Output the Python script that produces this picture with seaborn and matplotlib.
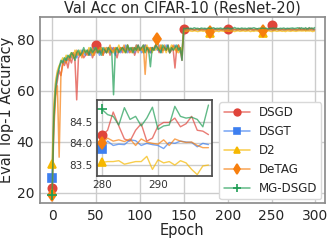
import numpy as np
import pandas as pd
import matplotlib
matplotlib.use("Agg")
import matplotlib.pyplot as plt
from matplotlib.colors import to_rgba
import seaborn as sns

# epochs: every 2nd epoch up to 278, then every epoch for the last 20 (zoomed in the inset)
epochs = list(range(0, 280, 2)) + list(range(280, 300))

dsgd = [22, 48, 60, 64, 68, 66, 71, 70, 72, 69,
        73, 71, 74, 72, 56.5, 73, 74, 75, 73, 74,
        75, 74, 76, 73, 75, 78, 76, 75, 77, 74,
        76, 75, 77, 74, 76, 77, 75, 73, 76, 77,
        75, 77, 76, 78, 75, 76, 77, 74, 76, 78,
        76, 77, 75, 78, 76, 77, 75, 77, 76, 78,
        77, 75, 78, 76, 77, 76, 78, 75, 77, 76,
        69, 77, 78, 76, 72, 84.5, 84.1, 84.3, 84.0, 84.4,
        84.2, 84.0, 84.3, 84.1, 84.4, 84.2, 84.0, 84.3, 84.2, 84.1,
        84.3, 84.0, 84.2, 84.4, 84.1, 84.3, 84.2, 84.0, 84.3, 84.2,
        84.5, 84.2, 84.1, 84.3, 84.0, 84.2, 84.4, 84.1, 84.3, 84.2,
        84.1, 84.3, 84.2, 84.6, 84.3, 84.0, 84.2, 84.4, 84.1, 84.3,
        84.2, 84.0, 84.3, 84.1, 84.2, 86.0, 84.3, 84.1, 84.2, 84.4,
        84.2, 84.3, 84.1, 84.3, 84.2, 84.4, 84.1, 84.3, 84.2, 84.1,
        84.18, 84.30, 84.72, 84.40, 84.10, 84.05, 84.30, 84.45, 84.05, 84.12,
        84.40, 84.48, 84.48, 84.58, 84.38, 84.45, 84.62, 84.30, 84.28, 84.20]

dsgt = [26, 52, 63, 67, 69, 71, 72, 71, 73, 72,
        74, 73, 75, 74, 73, 75, 74, 76, 75, 74,
        76, 75, 74, 76, 77, 75, 76, 74, 77, 76,
        75, 77, 76, 75, 77, 76, 74, 77, 76, 75,
        77, 76, 78, 75, 77, 76, 77, 75, 78, 76,
        77, 75, 76, 78, 77, 76, 75, 77, 76, 77,
        76, 78, 75, 77, 76, 78, 77, 75, 76, 77,
        78, 76, 77, 75, 76, 84.0, 84.1, 83.9, 84.0, 84.2,
        84.0, 83.9, 84.1, 84.0, 83.8, 84.1, 84.0, 84.2, 83.9, 84.0,
        84.1, 83.9, 84.0, 84.2, 84.0, 83.9, 84.1, 84.0, 83.9, 84.1,
        84.0, 84.2, 83.9, 84.0, 84.1, 83.9, 84.0, 84.1, 83.9, 84.0,
        84.1, 83.9, 84.0, 84.2, 84.0, 83.9, 84.1, 84.0, 83.8, 84.0,
        84.1, 84.0, 83.9, 84.1, 84.0, 84.2, 83.9, 84.0, 84.1, 83.9,
        84.0, 84.1, 83.9, 84.0, 84.2, 84.0, 83.9, 84.1, 84.0, 83.9,
        83.88, 84.05, 83.95, 83.98, 83.97, 84.08, 84.06, 83.95, 84.00, 83.97,
        83.95, 83.88, 84.02, 84.00, 84.05, 84.03, 84.02, 83.92, 84.00, 83.97]

d2 = [31.5, 55, 64, 68, 70, 71, 73, 72, 74, 73,
      74, 75, 73, 76, 74, 75, 76, 74, 75, 76,
      75, 77, 76, 74, 76, 77, 75, 76, 77, 75,
      76, 77, 75, 77, 76, 75, 77, 76, 78, 76,
      77, 75, 76, 78, 76, 77, 75, 77, 76, 77,
      76, 77, 75, 77, 78, 76, 77, 75, 77, 76,
      77, 76, 78, 76, 77, 75, 77, 76, 78, 77,
      76, 77, 75, 77, 76, 83.6, 83.4, 83.5, 83.6, 83.5,
      83.4, 83.6, 83.5, 83.3, 83.5, 83.6, 83.4, 83.5, 83.6, 83.4,
      82.8, 83.5, 83.6, 83.4, 83.5, 83.3, 83.6, 83.5, 83.4, 83.6,
      83.5, 83.4, 83.6, 83.5, 83.3, 83.5, 83.6, 83.4, 83.5, 83.6,
      83.4, 83.5, 83.6, 83.3, 83.5, 83.4, 83.6, 83.5, 83.4, 83.5,
      82.8, 83.5, 83.4, 83.6, 83.5, 83.3, 83.5, 83.6, 83.4, 83.5,
      83.6, 83.4, 83.5, 83.3, 83.6, 83.5, 83.4, 83.6, 83.5, 83.4,
      83.56, 83.58, 83.58, 83.60, 83.52, 83.55, 83.58, 83.58, 83.70, 83.40,
      83.62, 83.55, 83.58, 83.50, 83.60, 83.55, 83.40, 83.28, 83.48, 83.50]

detag = [19, 45, 58, 62, 34, 66, 70, 72, 71, 73,
         72, 74, 75, 73, 76, 74, 75, 73, 76, 75,
         74, 76, 75, 77, 74, 76, 75, 77, 76, 74,
         77, 75, 76, 78, 75, 76, 77, 75, 76, 77,
         76, 78, 75, 77, 76, 75, 77, 76, 78, 75,
         77, 76, 78, 66.5, 77, 75, 77, 76, 77, 78,
         80.5, 76, 77, 75, 78, 76, 77, 75, 76, 78,
         77, 75, 78, 76, 74, 84.2, 84.0, 84.1, 83.9, 84.0,
         84.1, 83.9, 84.0, 84.2, 83.9, 84.0, 84.1, 83.8, 84.0, 84.1,
         83.3, 84.0, 84.1, 83.9, 84.0, 84.2, 83.9, 84.0, 84.1, 83.9,
         84.0, 84.1, 83.9, 84.0, 84.2, 83.9, 84.0, 84.1, 83.9, 84.0,
         84.1, 83.9, 84.0, 84.1, 83.9, 84.0, 84.2, 83.9, 84.0, 84.1,
         83.4, 84.0, 84.1, 83.9, 84.0, 84.1, 83.9, 84.0, 84.2, 84.0,
         83.9, 84.0, 84.1, 83.9, 84.0, 84.1, 84.0, 83.9, 84.1, 84.0,
         84.00, 84.12, 84.05, 84.08, 84.04, 84.10, 83.95, 84.10, 84.03, 84.00,
         83.98, 84.08, 83.95, 84.10, 84.05, 84.02, 84.03, 83.95, 83.90, 83.90]

mg_dsgd = [19, 50, 61, 66, 69, 72, 71, 73, 72, 74,
           73, 75, 74, 72, 75, 76, 74, 75, 77, 75,
           76, 74, 77, 75, 76, 77, 75, 76, 74, 77,
           76, 75, 77, 76, 75, 58.5, 76, 77, 75, 76,
           77, 76, 75, 78, 76, 77, 75, 77, 76, 78,
           76, 77, 78, 75, 77, 76, 69.5, 77, 76, 78,
           77, 76, 75, 78, 77, 76, 78, 75, 77, 76,
           77, 78, 76, 77, 72, 84.6, 84.4, 84.7, 84.5, 84.6,
           84.4, 84.8, 84.5, 84.6, 84.3, 84.7, 84.5, 84.6, 84.4, 84.7,
           84.5, 84.6, 84.8, 84.4, 84.6, 84.5, 84.7, 84.4, 84.6, 84.5,
           84.7, 84.5, 84.4, 84.6, 84.9, 84.5, 84.6, 84.4, 84.7, 84.5,
           84.6, 84.4, 84.7, 84.5, 84.6, 84.8, 84.5, 84.4, 84.6, 84.5,
           84.7, 84.5, 84.6, 84.4, 84.6, 84.5, 84.7, 84.5, 84.6, 84.4,
           84.6, 84.5, 84.7, 84.4, 84.6, 84.5, 84.6, 84.7, 84.5, 84.6,
           84.78, 84.66, 84.62, 84.42, 84.82, 84.55, 84.62, 84.40, 84.58, 84.83,
           84.32, 84.40, 84.42, 84.85, 84.62, 84.58, 84.60, 84.55, 84.38, 84.88]

methods = ["DSGD", "DSGT", "D2", "DeTAG", "MG-DSGD"]
values = [dsgd, dsgt, d2, detag, mg_dsgd]

df = pd.DataFrame({"epoch": epochs * len(methods),
                   "acc": sum(values, []),
                   "method": np.repeat(methods, len(epochs))})

styles = {
    "DSGD": dict(color="#e0443a", marker="o", ms=6, every=[0, 25, 75, 100, 125]),
    "DSGT": dict(color="#3d7ff0", marker="s", ms=5.5, every=[0]),
    "D2": dict(color="#f6b800", marker="^", ms=6, every=[0, 90, 120]),
    "DeTAG": dict(color="#f77f0e", marker="d", ms=6, every=[0, 60, 90, 120]),
    "MG-DSGD": dict(color="#1f9d55", marker="+", ms=6.5, every=[0]),
}

sns.set_theme(style="whitegrid")
plt.rcParams["font.family"] = ["DejaVu Sans"]

fig = plt.figure(figsize=(3.32, 2.4), dpi=100)
ax = fig.add_axes([0.12, 0.154, 0.859, 0.775])


def draw(axis, data, every, lw):
    for m in methods:
        st = styles[m]
        sub = data[data["method"] == m]
        sns.lineplot(data=sub, x="epoch", y="acc", ax=axis, estimator=None,
                     color=st["color"], lw=lw, label=m,
                     marker=st["marker"], markersize=st["ms"],
                     markevery=every(st), markerfacecolor=st["color"],
                     markeredgecolor=st["color"], markeredgewidth=1.2)
        # lighter line, solid markers
        axis.lines[-1].set_color(to_rgba(st["color"], 0.7))


draw(ax, df, lambda st: st["every"], 1.1)
ax.set_xlim(-14, 311)
ax.set_ylim(16, 89)
ax.set_xticks([0, 50, 100, 150, 200, 250, 300])
ax.set_yticks([20, 40, 60, 80])
ax.tick_params(labelsize=10, length=3, pad=1, colors="0.15")
for s in ax.spines.values():
    s.set_color("0.55")
ax.set_title("Val Acc on CIFAR-10 (ResNet-20)", fontsize=10.5, pad=3)
ax.set_xlabel("Epoch", fontsize=10.5, labelpad=0)
ax.set_ylabel("Eval Top-1 Accuracy", fontsize=10.5, labelpad=2)
leg = ax.legend(loc="lower right", fontsize=8.6, frameon=True, markerscale=0.8,
                handlelength=2.25, handletextpad=0.7, borderpad=0.35,
                labelspacing=0.5, borderaxespad=0.3)
leg.get_frame().set_edgecolor("0.85")
leg.get_frame().set_alpha(1.0)

# inset zoomed into the last 20 epochs
axin = fig.add_axes([0.292, 0.267, 0.346, 0.317])
tail = df[df["epoch"] >= 280]
draw(axin, tail, lambda st: [0], 1.0)
axin.get_legend().remove()
axin.set_xlim(279.1, 299.6)
axin.set_ylim(83.25, 85.0)
axin.set_xticks([280, 290])
axin.set_yticks([83.5, 84.0, 84.5])
axin.set_xlabel("")
axin.set_ylabel("")
axin.tick_params(labelsize=7.5, length=2, pad=1, colors="0.2")
for s in axin.spines.values():
    s.set_color("0.3")

fig.savefig("out.png", dpi=100)
